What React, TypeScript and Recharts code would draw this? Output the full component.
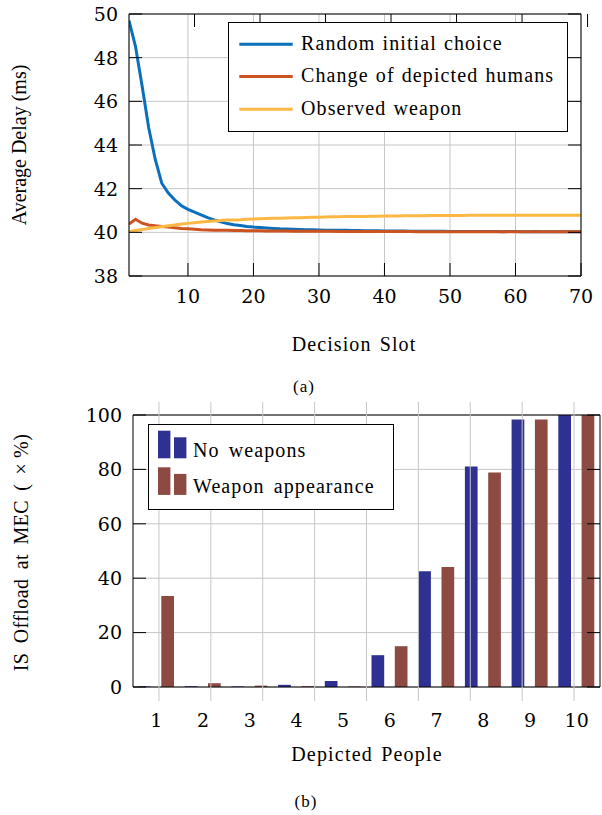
import React from 'react';
import { LineChart, Line, XAxis, YAxis, CartesianGrid, Legend, BarChart, Bar } from 'recharts';

// ---------- Data: top chart (a) ----------
const decisionSlots: number[] = Array.from({ length: 70 }, (_, i) => i + 1);

const randomInitialChoice: number[] = [
  49.7, 48.5, 46.7, 44.8, 43.35, 42.25, 41.8, 41.48, 41.22, 41.05,
  40.93, 40.8, 40.67, 40.57, 40.48, 40.4, 40.35, 40.31, 40.27, 40.24,
  40.22, 40.2, 40.18, 40.16, 40.15, 40.14, 40.13, 40.12, 40.12, 40.11,
  40.1, 40.1, 40.09, 40.09, 40.08, 40.08, 40.07, 40.07, 40.07, 40.06,
  40.06, 40.06, 40.06, 40.05, 40.05, 40.05, 40.05, 40.05, 40.05, 40.04,
  40.04, 40.04, 40.04, 40.04, 40.04, 40.04, 40.04, 40.03, 40.04, 40.04,
  40.03, 40.03, 40.04, 40.03, 40.03, 40.03, 40.03, 40.03, 40.03, 40.03,
];

const changeOfDepictedHumans: number[] = [
  40.38, 40.6, 40.42, 40.34, 40.3, 40.27, 40.24, 40.21, 40.18, 40.16,
  40.14, 40.12, 40.11, 40.1, 40.09, 40.09, 40.08, 40.08, 40.07, 40.07,
  40.07, 40.06, 40.06, 40.06, 40.06, 40.05, 40.05, 40.05, 40.05, 40.05,
  40.05, 40.05, 40.04, 40.04, 40.04, 40.04, 40.04, 40.04, 40.04, 40.04,
  40.04, 40.04, 40.04, 40.04, 40.03, 40.03, 40.03, 40.03, 40.03, 40.03,
  40.03, 40.03, 40.03, 40.03, 40.03, 40.03, 40.03, 40.03, 40.03, 40.03,
  40.03, 40.03, 40.03, 40.03, 40.03, 40.03, 40.03, 40.03, 40.03, 40.03,
];

const observedWeapon: number[] = [
  40.03, 40.08, 40.13, 40.18, 40.22, 40.26, 40.3, 40.34, 40.38, 40.41,
  40.44, 40.47, 40.5, 40.52, 40.54, 40.56, 40.57, 40.58, 40.6, 40.61,
  40.62, 40.63, 40.64, 40.65, 40.66, 40.67, 40.67, 40.68, 40.69, 40.69,
  40.7, 40.71, 40.71, 40.72, 40.72, 40.73, 40.73, 40.74, 40.74, 40.75,
  40.75, 40.75, 40.76, 40.76, 40.76, 40.76, 40.77, 40.77, 40.77, 40.77,
  40.77, 40.77, 40.78, 40.78, 40.78, 40.78, 40.78, 40.78, 40.78, 40.78,
  40.78, 40.78, 40.78, 40.78, 40.78, 40.78, 40.78, 40.78, 40.78, 40.78,
];

const delaySeriesNames: string[] = ['Random initial choice', 'Change of depicted humans', 'Observed weapon'];
const delayTicksX: number[] = [10, 20, 30, 40, 50, 60, 70];
const delayTicksY: number[] = [38, 40, 42, 44, 46, 48, 50];

// ---------- Data: bottom chart (b) ----------
const depictedPeople: string[] = ['1', '2', '3', '4', '5', '6', '7', '8', '9', '10'];
const noWeapons: number[] = [0.2, 0.3, 0.2, 0.8, 2.2, 11.7, 42.6, 81.1, 98.3, 100];
const weaponAppearance: number[] = [33.5, 1.4, 0.5, 0.3, 0.2, 15.0, 44.1, 78.9, 98.3, 100];
const offloadSeriesNames: string[] = ['No weapons', 'Weapon appearance'];
const offloadTicksY: number[] = [0, 20, 40, 60, 80, 100];

// ---------- Styles ----------
const TEXT_FONT = "'Liberation Serif', 'Times New Roman', serif";
const TICK_FONT = "'DejaVu Serif', serif";
const GRID = '#c6c6c6';
const TICK_LEN = 13;

const BLUE = '#0a70bb';
const ORANGE = '#cc5220';
const YELLOW = '#fdb843';
const BAR_BLUE = '#2e3192';
const BAR_RED = '#8c4a43';

const lineData = decisionSlots.map((s, i) => ({
  slot: s,
  random: randomInitialChoice[i],
  change: changeOfDepictedHumans[i],
  observed: observedWeapon[i],
}));

const barData = depictedPeople.map((p, i) => ({
  people: p,
  none: noWeapons[i],
  weapon: weaponAppearance[i],
}));

const categoryBounds: number[] = [...depictedPeople.map((_, i) => i + 0.5), depictedPeople.length + 0.5];

// ---------- Tick renderers ----------
const TopChartXTick = (props: any) => {
  const { x, y, payload } = props;
  return (
    <g>
      <line x1={x} x2={x} y1={y} y2={y - TICK_LEN} stroke="#000" strokeWidth={1} />
      <text x={x} y={y + 27.3} textAnchor="middle" fontFamily={TICK_FONT} fontSize={19} fill="#000">
        {payload.value}
      </text>
    </g>
  );
};

const MirrorTopTick = (props: any) => {
  const { x, y } = props;
  return <line x1={x} x2={x} y1={y} y2={y + TICK_LEN} stroke="#000" strokeWidth={1} />;
};

const LeftYTick = (props: any) => {
  const { x, y, payload } = props;
  return (
    <g>
      <line x1={x} x2={x + TICK_LEN} y1={y} y2={y} stroke="#000" strokeWidth={1} />
      <text x={x - 11} y={y} dy="0.36em" textAnchor="end" fontFamily={TICK_FONT} fontSize={19} fill="#000">
        {payload.value}
      </text>
    </g>
  );
};

const RightYTick = (props: any) => {
  const { x, y } = props;
  return <line x1={x} x2={x - TICK_LEN} y1={y} y2={y} stroke="#000" strokeWidth={1} />;
};

const BAR_PLOT_H = 272;

const BoundTick = (props: any) => {
  const { x, y } = props;
  return <line x1={x} x2={x} y1={y + 13} y2={y - BAR_PLOT_H - 14} stroke={GRID} strokeWidth={1} />;
};

const CategoryLabelTick = (props: any) => {
  const { x, y, payload } = props;
  return (
    <text x={x} y={y + 40} textAnchor="middle" fontFamily={TICK_FONT} fontSize={19} fill="#000">
      {payload.value}
    </text>
  );
};

const orderPayload = (payload: any[], names: string[]) =>
  [...payload].sort((a, b) => names.indexOf(a.value) - names.indexOf(b.value));

// ---------- Legends ----------
const LineLegend = (props: any) => {
  const payload = orderPayload(props.payload || [], delaySeriesNames);
  const rows = [22.3, 54.5, 87.3];
  return (
    <div style={{ width: 340, height: 110, border: '1px solid #000', boxSizing: 'border-box', background: '#fff' }}>
      <svg width={338} height={108} style={{ display: 'block' }}>
        {payload.map((entry: any, i: number) => (
          <g key={entry.value}>
            <line x1={10.3} x2={63.7} y1={rows[i] - 1} y2={rows[i] - 1} stroke={entry.color} strokeWidth={3} />
            <text
              x={72}
              y={rows[i] + 4.7}
              fontFamily={TEXT_FONT}
              fontSize={20}
              letterSpacing={1.1}
              wordSpacing={1}
              fill="#000"
            >
              {entry.value}
            </text>
          </g>
        ))}
      </svg>
    </div>
  );
};

const BarLegend = (props: any) => {
  const payload = orderPayload(props.payload || [], offloadSeriesNames);
  const rowTop = [6.7, 43.3];
  return (
    <div style={{ width: 246, height: 86, border: '1px solid #000', boxSizing: 'border-box', background: '#fff' }}>
      <svg width={244} height={84} style={{ display: 'block' }}>
        {payload.map((entry: any, i: number) => (
          <g key={entry.value}>
            <rect x={9} y={rowTop[i] - 1} width={12.4} height={27.6} fill={entry.color} />
            <rect x={25} y={rowTop[i] + 5.6} width={12.4} height={21} fill={entry.color} />
            <text
              x={44}
              y={rowTop[i] + 25}
              fontFamily={TEXT_FONT}
              fontSize={20}
              letterSpacing={1.1}
              wordSpacing={3}
              fill="#000"
            >
              {entry.value}
            </text>
          </g>
        ))}
      </svg>
    </div>
  );
};

export default function App() {
  return (
    <div style={{ position: 'absolute', left: 0, top: 0, width: 602, height: 815, background: '#fff' }}>
      <div style={{ position: 'absolute', left: 0, top: 0 }}>
        <LineChart width={602} height={400} data={lineData} margin={{ top: 13, right: 20, bottom: 123, left: 128 }}>
          <CartesianGrid stroke={GRID} strokeWidth={1} fill="none" />
          <XAxis
            dataKey="slot"
            type="number"
            domain={[1, 70]}
            ticks={delayTicksX}
            interval={0}
            height={1}
            tickSize={0}
            tickMargin={0}
            tickLine={false}
            axisLine={{ stroke: '#000', strokeWidth: 1 }}
            tick={<TopChartXTick />}
            allowDataOverflow
          />
          <XAxis
            xAxisId="top"
            orientation="top"
            type="number"
            domain={[1, 70]}
            ticks={delayTicksX}
            interval={0}
            height={1}
            tickSize={0}
            tickMargin={0}
            tickLine={false}
            axisLine={{ stroke: '#000', strokeWidth: 1 }}
            tick={<MirrorTopTick />}
            allowDataOverflow
          />
          <YAxis
            type="number"
            domain={[38, 50]}
            ticks={delayTicksY}
            interval={0}
            width={1}
            tickSize={0}
            tickMargin={0}
            tickLine={false}
            axisLine={{ stroke: '#000', strokeWidth: 1 }}
            tick={<LeftYTick />}
            allowDataOverflow
          />
          <YAxis
            yAxisId="right"
            orientation="right"
            type="number"
            domain={[38, 50]}
            ticks={delayTicksY}
            interval={0}
            width={1}
            tickSize={0}
            tickMargin={0}
            tickLine={false}
            axisLine={{ stroke: '#000', strokeWidth: 1 }}
            tick={<RightYTick />}
            allowDataOverflow
          />
          <Line type="linear" dataKey="random" name="Random initial choice" stroke={BLUE} strokeWidth={3} dot={false} isAnimationActive={false} />
          <Line type="linear" dataKey="change" name="Change of depicted humans" stroke={ORANGE} strokeWidth={3} dot={false} isAnimationActive={false} />
          <Line type="linear" dataKey="observed" name="Observed weapon" stroke={YELLOW} strokeWidth={3} dot={false} isAnimationActive={false} />
          <Legend
            layout="vertical"
            align="center"
            verticalAlign="middle"
            content={<LineLegend />}
            wrapperStyle={{ left: 228, top: 22, width: 340, height: 110 }}
          />
        </LineChart>
      </div>

      <div style={{ position: 'absolute', left: 0, top: 400 }}>
        <BarChart
          width={602}
          height={415}
          data={barData}
          margin={{ top: 14, right: 1, bottom: 126, left: 132 }}
          barSize={12.7}
          barGap={10.6}
        >
          <CartesianGrid stroke={GRID} strokeWidth={1} vertical={false} fill="none" />
          <XAxis
            dataKey="people"
            type="category"
            interval={0}
            height={1}
            tickSize={0}
            tickMargin={0}
            tickLine={false}
            axisLine={{ stroke: '#000', strokeWidth: 1 }}
            tick={<CategoryLabelTick />}
          />
          <XAxis
            xAxisId="bounds"
            type="number"
            domain={[0.5, depictedPeople.length + 0.5]}
            ticks={categoryBounds}
            interval={0}
            height={1}
            tickSize={0}
            tickMargin={0}
            tickLine={false}
            axisLine={false}
            tick={<BoundTick />}
            allowDataOverflow
          />
          <XAxis
            xAxisId="top"
            orientation="top"
            dataKey="people"
            type="category"
            height={1}
            tickLine={false}
            axisLine={{ stroke: '#000', strokeWidth: 1 }}
            tick={false}
          />
          <YAxis
            type="number"
            domain={[0, 100]}
            ticks={offloadTicksY}
            interval={0}
            width={1}
            tickSize={0}
            tickMargin={0}
            tickLine={false}
            axisLine={{ stroke: '#000', strokeWidth: 1 }}
            tick={<LeftYTick />}
            allowDataOverflow
          />
          <YAxis
            yAxisId="right"
            orientation="right"
            type="number"
            domain={[0, 100]}
            ticks={offloadTicksY}
            interval={0}
            width={1}
            tickSize={0}
            tickMargin={0}
            tickLine={false}
            axisLine={{ stroke: '#000', strokeWidth: 1 }}
            tick={<RightYTick />}
            allowDataOverflow
          />
          <Bar dataKey="none" name="No weapons" fill={BAR_BLUE} isAnimationActive={false} />
          <Bar dataKey="weapon" name="Weapon appearance" fill={BAR_RED} isAnimationActive={false} />
          <Legend
            layout="vertical"
            align="center"
            verticalAlign="middle"
            content={<BarLegend />}
            wrapperStyle={{ left: 148, top: 24, width: 246, height: 86 }}
          />
        </BarChart>
      </div>

      <svg
        width={602}
        height={815}
        style={{ position: 'absolute', left: 0, top: 0, pointerEvents: 'none' }}
      >
        <text
          x={26}
          y={145}
          transform="rotate(-90 26 145)"
          textAnchor="middle"
          fontFamily={TEXT_FONT}
          fontSize={20}
          fill="#000"
        >
          Average Delay (ms)
        </text>
        <text x={354} y={350.5} textAnchor="middle" fontFamily={TEXT_FONT} fontSize={20} letterSpacing={1.1} wordSpacing={2} fill="#000">
          Decision Slot
        </text>
        <text x={304} y={392} textAnchor="middle" fontFamily={TEXT_FONT} fontSize={17} letterSpacing={1} fill="#000">
          (a)
        </text>
        <text
          x={27.5}
          y={552.5}
          transform="rotate(-90 27.5 552.5)"
          textAnchor="middle"
          fontFamily={TEXT_FONT}
          fontSize={20}
          letterSpacing={0.4}
          wordSpacing={4}
          fill="#000"
        >
          <tspan>IS Offload at MEC (</tspan>
          <tspan dx={9}>×</tspan>
          <tspan dx={5}>%)</tspan>
        </text>
        <text x={367} y={760.5} textAnchor="middle" fontFamily={TEXT_FONT} fontSize={20} letterSpacing={1.2} wordSpacing={2} fill="#000">
          Depicted People
        </text>
        <text x={306} y={807} textAnchor="middle" fontFamily={TEXT_FONT} fontSize={17} letterSpacing={1} fill="#000">
          (b)
        </text>
      </svg>
    </div>
  );
}
